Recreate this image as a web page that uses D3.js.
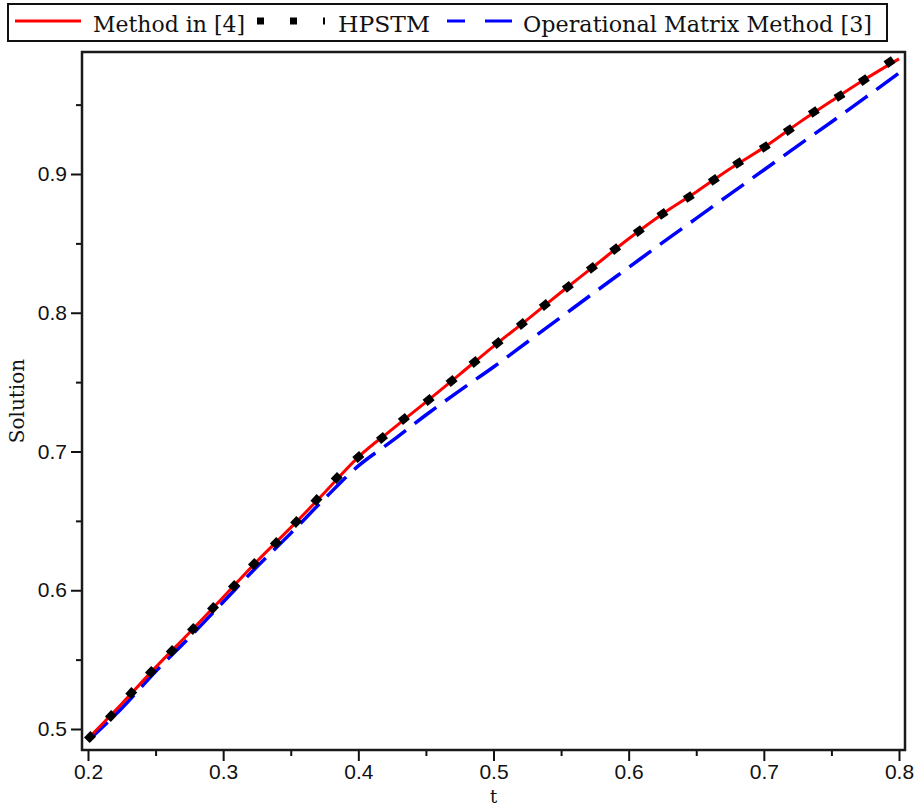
<!DOCTYPE html>
<html>
<head>
<meta charset="utf-8">
<script src="https://cdn.jsdelivr.net/npm/d3@7/dist/d3.min.js"></script>
<style>
  html, body { margin: 0; padding: 0; background: #fff; }
  svg { display: block; }
</style>
</head>
<body>
<script>
// ---- data ----
const legendLabels = ["Method in [4]", "HPSTM", "Operational Matrix Method [3]"];
const xTicks = [0.2, 0.3, 0.4, 0.5, 0.6, 0.7, 0.8];
const xMinorTicks = [0.25, 0.35, 0.45, 0.55, 0.65, 0.75];
const yTicks = [0.5, 0.6, 0.7, 0.8, 0.9];
const yMinorTicks = [0.55, 0.65, 0.75, 0.85, 0.95];

// Method in [4] (red solid)
const tMethod4 = [0.2, 0.225, 0.25, 0.275, 0.3, 0.325, 0.35, 0.375, 0.4, 0.425, 0.45, 0.475, 0.5,
  0.525, 0.55, 0.575, 0.6, 0.625, 0.65, 0.675, 0.7, 0.725, 0.75, 0.775, 0.8];
const method4 = [0.4930, 0.5182, 0.5444, 0.5694, 0.5949, 0.6209, 0.6451, 0.6703, 0.6960, 0.7160, 0.7356, 0.7556, 0.7758,
  0.7951, 0.8148, 0.8340, 0.8533, 0.8712, 0.8871, 0.9038, 0.9191, 0.9363, 0.9526, 0.9684, 0.9830];

// HPSTM (black dots)
const tHPSTM = [0.2015, 0.217, 0.232, 0.2466, 0.262, 0.2777, 0.2925, 0.308, 0.3228, 0.339, 0.354, 0.369, 0.384, 0.400,
  0.4175, 0.4337, 0.452, 0.469, 0.486, 0.503, 0.521, 0.538, 0.555, 0.5728, 0.590, 0.6075, 0.625, 0.6445,
  0.663, 0.681, 0.7007, 0.7185, 0.737, 0.756, 0.774, 0.793];
const hpstm = [0.4942, 0.5094, 0.5259, 0.5411, 0.5562, 0.5721, 0.5872, 0.6031, 0.6189, 0.6340, 0.6492, 0.6650, 0.6809, 0.6960,
  0.7097, 0.7234, 0.7371, 0.7508, 0.7645, 0.7782, 0.7919, 0.8056, 0.8186, 0.8323, 0.8459, 0.8589, 0.8712, 0.8834,
  0.8957, 0.9079, 0.9195, 0.9317, 0.9447, 0.9562, 0.9677, 0.9807];

// Operational Matrix Method [3] (blue dashed)
const tOperational = [0.2, 0.225, 0.25, 0.275, 0.3, 0.325, 0.35, 0.375, 0.4, 0.425, 0.45, 0.475, 0.5,
  0.525, 0.55, 0.575, 0.6, 0.625, 0.65, 0.675, 0.7, 0.725, 0.75, 0.775, 0.8];
const operational = [0.4915, 0.5150, 0.5415, 0.5660, 0.5915, 0.6170, 0.6410, 0.6660, 0.6896, 0.7076, 0.7263, 0.7439, 0.7609,
  0.7789, 0.7969, 0.8149, 0.8327, 0.8505, 0.8680, 0.8855, 0.9029, 0.9203, 0.9375, 0.9550, 0.9728];

// ---- drawing ----
const W = 917, H = 811;
const frame = { left: 82, right: 905, top: 52, bottom: 750 };

const svg = d3.select("body").append("svg")
  .attr("width", W).attr("height", H)
  .attr("viewBox", `0 0 ${W} ${H}`);
svg.append("rect").attr("width", W).attr("height", H).attr("fill", "#fff");

const x = d3.scaleLinear().domain([0.2, 0.8]).range([88, 899]);
const y = d3.scaleLinear().domain([0.5, 0.9]).range([729, 174]);

const tickFont = "'Liberation Sans', Arial, sans-serif";
const serifFont = "'DejaVu Serif', serif";

// axes
const gx = svg.append("g").attr("transform", `translate(0,${frame.bottom})`)
  .call(d3.axisBottom(x).tickValues(xTicks).tickSize(11).tickPadding(3).tickFormat(d3.format(".1f")));
gx.select(".domain").remove();
gx.selectAll("text").attr("font-family", tickFont).attr("font-size", 21).attr("fill", "#111");
gx.selectAll("line").attr("stroke", "#111").attr("stroke-width", 2);

const gxm = svg.append("g").attr("transform", `translate(0,${frame.bottom})`)
  .call(d3.axisBottom(x).tickValues(xMinorTicks).tickSize(6).tickFormat(""));
gxm.select(".domain").remove();
gxm.selectAll("line").attr("stroke", "#111").attr("stroke-width", 2);

const gy = svg.append("g").attr("transform", `translate(${frame.left},0)`)
  .call(d3.axisLeft(y).tickValues(yTicks).tickSize(11).tickPadding(4).tickFormat(d3.format(".1f")));
gy.select(".domain").remove();
gy.selectAll("text").attr("font-family", tickFont).attr("font-size", 21).attr("fill", "#111");
gy.selectAll("line").attr("stroke", "#111").attr("stroke-width", 2);

const gym = svg.append("g").attr("transform", `translate(${frame.left},0)`)
  .call(d3.axisLeft(y).tickValues(yMinorTicks).tickSize(6).tickFormat(""));
gym.select(".domain").remove();
gym.selectAll("line").attr("stroke", "#111").attr("stroke-width", 2);

// plot frame
svg.append("rect")
  .attr("x", frame.left).attr("y", frame.top)
  .attr("width", frame.right - frame.left).attr("height", frame.bottom - frame.top)
  .attr("fill", "none").attr("stroke", "#1a1a1a").attr("stroke-width", 2.5);

// clip
svg.append("clipPath").attr("id", "clip").append("rect")
  .attr("x", frame.left + 1).attr("y", frame.top + 1)
  .attr("width", frame.right - frame.left - 2).attr("height", frame.bottom - frame.top - 2);
const plot = svg.append("g").attr("clip-path", "url(#clip)");

const line = d3.line().x(d => x(d[0])).y(d => y(d[1])).curve(d3.curveMonotoneX);

plot.append("path")
  .datum(d3.zip(tOperational, operational))
  .attr("d", line)
  .attr("fill", "none").attr("stroke", "#0000ff").attr("stroke-width", 3.5)
  .attr("stroke-dasharray", "27,11");

plot.append("path")
  .datum(d3.zip(tMethod4, method4))
  .attr("d", line)
  .attr("fill", "none").attr("stroke", "#ff0000").attr("stroke-width", 3);

// HPSTM markers: short thick segments aligned with the curve
const hp = d3.zip(tHPSTM, hpstm);
plot.selectAll("rect.hp").data(hp).join("rect")
  .attr("class", "hp")
  .attr("x", -4.5).attr("y", -4)
  .attr("width", 9).attr("height", 8)
  .attr("fill", "#000")
  .attr("transform", (d, i) => {
    const a = hp[Math.max(0, i - 1)], b = hp[Math.min(hp.length - 1, i + 1)];
    const ang = Math.atan2(y(b[1]) - y(a[1]), x(b[0]) - x(a[0])) * 180 / Math.PI;
    return `translate(${x(d[0])},${y(d[1])}) rotate(${ang})`;
  });

// axis titles
svg.append("text")
  .attr("x", (frame.left + frame.right) / 2).attr("y", 803)
  .attr("text-anchor", "middle")
  .attr("font-family", serifFont).attr("font-size", 18).attr("fill", "#111")
  .text("t");

svg.append("text")
  .attr("transform", `translate(24,${(frame.top + frame.bottom) / 2}) rotate(-90)`)
  .attr("text-anchor", "middle")
  .attr("font-family", serifFont).attr("font-size", 20).attr("fill", "#111")
  .text("Solution");

// legend
const lg = svg.append("g");
lg.append("rect").attr("x", 8).attr("y", 4).attr("width", 879).attr("height", 37)
  .attr("fill", "#fff").attr("stroke", "#111").attr("stroke-width", 2);

lg.append("line").attr("x1", 15).attr("x2", 81).attr("y1", 21).attr("y2", 21)
  .attr("stroke", "#ff0000").attr("stroke-width", 3);
lg.append("line").attr("x1", 257).attr("x2", 325).attr("y1", 21).attr("y2", 21)
  .attr("stroke", "#000").attr("stroke-width", 7).attr("stroke-dasharray", "7,26");
lg.append("line").attr("x1", 447).attr("x2", 512).attr("y1", 21).attr("y2", 21)
  .attr("stroke", "#0000ff").attr("stroke-width", 3).attr("stroke-dasharray", "18,20,27,100");

const legendPos = [[93, 152], [338, 92], [523, 349]];
legendLabels.forEach((lab, i) => {
  lg.append("text")
    .attr("x", legendPos[i][0]).attr("y", 32)
    .attr("font-family", serifFont).attr("font-size", 22.7).attr("fill", "#111")
    .attr("textLength", legendPos[i][1]).attr("lengthAdjust", "spacingAndGlyphs")
    .text(lab);
});
</script>
</body>
</html>
